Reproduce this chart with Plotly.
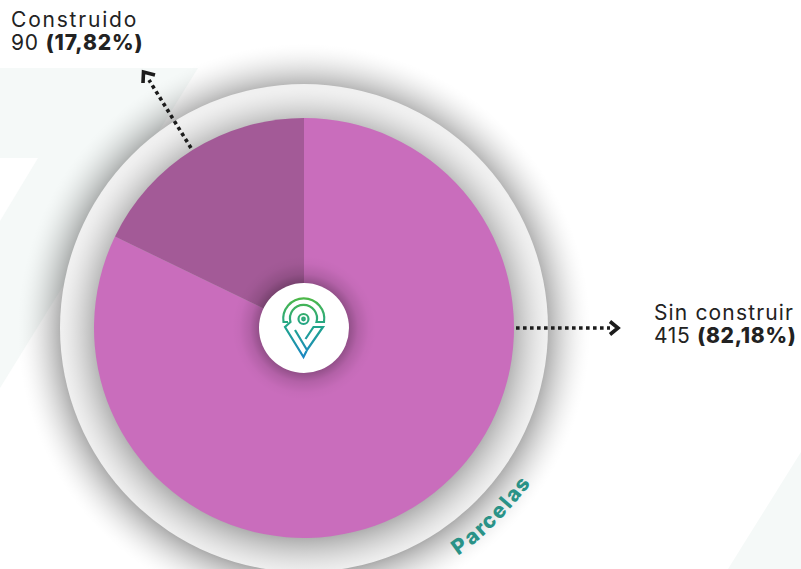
import base64
import math
import plotly.graph_objects as go

W, H = 801, 569

categories = ["Sin construir", "Construido"]
values = [415, 90]
slice_colors = ["#C96DBC", "#A35A97"]
caption = "Parcelas"

FONT = "Inter"
TINT = "#F5F9F8"
INK = "#222222"
CX, CY = 304, 328
R_PIE, R_RING, R_HOLE = 210, 244, 45


def px(x):
    return x / W


def py(y):
    return 1 - y / H


def poly(points, **kw):
    d = "M " + " L ".join(f"{px(x):.5f},{py(y):.5f}" for x, y in points)
    return dict(type="path", xref="paper", yref="paper", path=d, **kw)


def svg_src(svg):
    return "data:image/svg+xml;base64," + base64.b64encode(svg.encode()).decode()


def fade(name, r_edge, extent, a0, cy, power):
    """A radial gradient that fades from a0 at r_edge to nothing at r_edge + extent."""
    r = r_edge + extent
    stops = "".join(
        f'<stop offset="{(r_edge + extent * i / 16) / r:.4f}" stop-color="#000" '
        f'stop-opacity="{a0 * (1 - i / 16) ** power:.4f}"/>'
        for i in range(17))
    return (f'<radialGradient id="{name}" gradientUnits="userSpaceOnUse" cx="{CX}" cy="{cy}" r="{r}">'
            f'{stops}</radialGradient>'), f'<circle cx="{CX}" cy="{cy}" r="{r}" fill="url(#{name})"/>'


g1, c1 = fade("outer", R_RING - 4, 48, 0.35, CY + 2, 1.8)
g2, c2 = fade("inner", R_PIE - 4, 38, 0.27, CY + 4, 1.5)
backdrop = f"""<svg xmlns="http://www.w3.org/2000/svg" width="{W}" height="{H}" viewBox="0 0 {W} {H}">
<defs>{g1}{g2}</defs>
<rect width="{W}" height="{H}" fill="#fff"/>
<path d="M0 68 L198 68 L0 388 Z" fill="{TINT}"/>
<path d="M0 158 L38 158 L0 221 Z" fill="#fff"/>
<path d="M801 452 L801 569 L728 569 Z" fill="{TINT}"/>
{c1}
<circle cx="{CX}" cy="{CY}" r="{R_RING}" fill="#F0F0F0"/>
{c2}
</svg>"""

# hub: soft shadow, white disc and the pin mark
hub = f"""<svg xmlns="http://www.w3.org/2000/svg" width="180" height="180" viewBox="214 238 180 180">
<defs>
<linearGradient id="g" gradientUnits="userSpaceOnUse" x1="0" y1="298" x2="0" y2="358">
<stop offset="0" stop-color="#4DB848"/><stop offset="0.5" stop-color="#1FA38F"/><stop offset="1" stop-color="#1B86C4"/></linearGradient>
<radialGradient id="s" gradientUnits="userSpaceOnUse" cx="{CX}" cy="{CY}" r="72">
<stop offset="0.6" stop-color="#000" stop-opacity="0.30"/><stop offset="0.75" stop-color="#000" stop-opacity="0.11"/>
<stop offset="0.9" stop-color="#000" stop-opacity="0.02"/><stop offset="1" stop-color="#000" stop-opacity="0"/></radialGradient>
</defs>
<circle cx="{CX}" cy="{CY}" r="72" fill="url(#s)"/>
<circle cx="{CX}" cy="{CY}" r="{R_HOLE}" fill="#fff"/>
<g fill="none" stroke="url(#g)" stroke-width="2.2" stroke-linejoin="miter">
<path d="M288 322 L283.500 322 A20.500 20.500 0 1 1 324 322 L316.500 322 A13.500 13.500 0 1 0 290.500 322 L285 327 L303.500 357 L306.500 351"/>
<circle cx="303.500" cy="319" r="5"/><circle cx="303.500" cy="319" r="1.300"/>
<path d="M295 330 L307 350 L323 327 L313.500 327 L305.500 339"/>
</g></svg>"""

shapes = []
dots = dict(color="#1C1C1C", width=3.6, dash="3.6px,3.4px")
shapes.append(poly([(516, 328), (610, 328)], line=dots, layer="above"))
shapes.append(poly([(191, 148), (149, 80)], line=dots, layer="above"))
head = dict(color="#1C1C1C", width=3.6)
shapes.append(poly([(610, 321.5), (618, 328), (610, 334.5)], line=head, layer="above"))
shapes.append(poly([(155, 75), (143.5, 72), (143, 83)], line=head, layer="above"))

annotations = []


def label(x, y, text, spacing, size=21):
    annotations.append(dict(xref="paper", yref="paper", x=px(x), y=py(y),
                            text=f'<span style="letter-spacing:{spacing}px">{text}</span>',
                            showarrow=False, xanchor="left", yanchor="middle",
                            font=dict(family=FONT, size=size, color=INK)))


total = sum(values)
pct = {c: f'{v} <span style="font-weight:800">({v / total * 100:.2f}%)</span>'.replace(".", ",")
       for c, v in zip(categories, values)}
label(9, 20, categories[1], 1.8)
label(9, 42, pct[categories[1]], 0.85)
label(652, 312, categories[0], 1.15)
label(652, 335, pct[categories[0]], 0.7)

# caption along the ring
widths = dict(P=11, a=11, r=7, c=10, e=11, l=5, s=9)
arc_r = 267
span = sum(widths[c] for c in caption)
pos = 0
for ch in caption:
    mid = pos + widths[ch] / 2
    pos += widths[ch]
    theta = 56 - (mid / span) * 21.5
    t = math.radians(theta)
    annotations.append(dict(xref="paper", yref="paper",
                            x=px(CX + arc_r * math.cos(t)), y=py(CY + arc_r * math.sin(t)),
                            text=f'<span style="font-weight:800">{ch}</span>', showarrow=False,
                            textangle=theta - 90, xanchor="center", yanchor="middle",
                            font=dict(family=FONT, size=21, color="#2A9287")))

fig = go.Figure(go.Pie(
    labels=categories, values=values, sort=False, direction="clockwise", rotation=0,
    marker=dict(colors=slice_colors, line=dict(width=0)),
    textinfo="none", showlegend=False,
    domain=dict(x=[px(CX - R_PIE), px(CX + R_PIE)], y=[py(CY + R_PIE), py(CY - R_PIE)]),
))
fig.update_layout(
    width=W, height=H, margin=dict(l=0, r=0, t=0, b=0),
    paper_bgcolor="#FFFFFF", plot_bgcolor="#FFFFFF", showlegend=False,
    shapes=shapes, annotations=annotations,
    images=[
        dict(source=svg_src(backdrop), xref="paper", yref="paper", x=0, y=1,
             sizex=1, sizey=1, xanchor="left", yanchor="top", sizing="stretch", layer="below"),
        dict(source=svg_src(hub), xref="paper", yref="paper", x=px(214), y=py(238),
             sizex=180 / W, sizey=180 / H, xanchor="left", yanchor="top",
             sizing="stretch", layer="above"),
    ],
)
fig.write_html("out.html", config=dict(displayModeBar=False),
               post_script="document.body.style.margin='0';document.body.style.overflow='hidden';")
